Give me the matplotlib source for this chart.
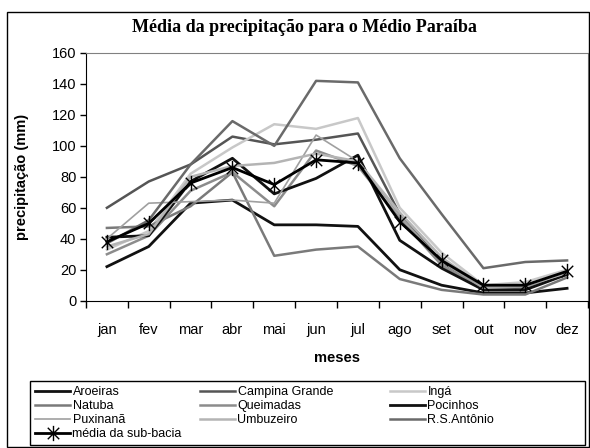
import numpy as np
import matplotlib
matplotlib.use('Agg')
import matplotlib.pyplot as plt
from matplotlib.path import Path
from matplotlib.patches import Rectangle

plt.rcParams['font.family'] = ['Liberation Sans', 'DejaVu Sans']

meses = ['jan', 'fev', 'mar', 'abr', 'mai', 'jun', 'jul', 'ago', 'set', 'out', 'nov', 'dez']

aroeiras = [22, 35, 63, 65, 49, 49, 48, 20, 10, 5, 5, 8]
campina_grande = [60, 77, 88, 106, 101, 104, 108, 56, 25, 8, 9, 17]
inga = [33, 45, 82, 99, 114, 111, 118, 60, 31, 10, 12, 20]
natuba = [47, 48, 61, 83, 29, 33, 35, 14, 7, 4, 4, 15]
queimadas = [30, 42, 71, 83, 61, 97, 87, 53, 23, 7, 8, 17]
pocinhos = [41, 42, 77, 92, 69, 79, 94, 39, 21, 7, 7, 17]
puxinana = [40, 63, 64, 65, 63, 107, 90, 55, 25, 8, 9, 18]
umbuzeiro = [35, 43, 80, 87, 89, 95, 90, 57, 28, 9, 10, 18]
rs_antonio = [37, 52, 88, 116, 100, 142, 141, 92, 56, 21, 25, 26]
media = [38, 50, 76, 86, 75, 91, 89, 51, 26, 10, 10, 19]

# asterisco tipo Excel
star = Path([(0, -1), (0, 1), (-0.75, -0.75), (0.75, 0.75), (-0.75, 0.75), (0.75, -0.75)],
            [Path.MOVETO, Path.LINETO, Path.MOVETO, Path.LINETO, Path.MOVETO, Path.LINETO])

fig = plt.figure(figsize=(5.9, 4.48), dpi=100)
ax = fig.add_axes([86/590, 1 - 300.7/448, (588 - 86)/590, (300.7 - 53)/448])

x = np.arange(len(meses))
series = [
    ('Aroeiras', aroeiras, '#111111', 2.0),
    ('Campina Grande', campina_grande, '#555555', 1.8),
    ('Ingá', inga, '#c8c8c8', 1.8),
    ('Natuba', natuba, '#7a7a7a', 1.8),
    ('Queimadas', queimadas, '#8c8c8c', 1.8),
    ('Pocinhos', pocinhos, '#111111', 2.0),
    ('Puxinanã', puxinana, '#a0a0a0', 1.2),
    ('Umbuzeiro', umbuzeiro, '#b4b4b4', 1.8),
    ('R.S.Antônio', rs_antonio, '#6a6a6a', 1.8),
]
handles = {}
for nome, vals, cor, lw in series:
    handles[nome], = ax.plot(x, vals, color=cor, lw=lw, label=nome)
handles['média da sub-bacia'], = ax.plot(x, media, color='black', lw=2.0, marker=star,
                                         markersize=11, markeredgewidth=1.0,
                                         label='média da sub-bacia')

ax.set_xlim(-0.5, 11.5)
ax.set_ylim(0, 160)
ax.set_yticks(range(0, 161, 20))
ax.set_xticks(x)
ax.set_xticklabels(meses)
ax.set_xticks(np.arange(-0.5, 12, 1), minor=True)
ax.tick_params(axis='x', which='major', length=0, pad=16, labelsize=10.5)
ax.tick_params(axis='x', which='minor', length=5, width=1)
ax.tick_params(axis='y', length=4, width=1, labelsize=10.5, pad=3)
for s in ['top', 'right']:
    ax.spines[s].set_color('#808080')
for s in ['left', 'bottom']:
    ax.spines[s].set_color('black')

ax.set_xlabel('meses', fontsize=10.5, fontweight='bold', labelpad=10)
ax.set_ylabel('precipitação (mm)', fontsize=10.5, fontweight='bold', labelpad=16)

fig.text(304/590, 1 - 28/448, 'Média da precipitação para o Médio Paraíba', ha='center', va='center',
         family='Liberation Serif', fontweight='bold', fontsize=13)

# legenda em 3 colunas, cada uma na sua posição
colunas = [(35, ['Aroeiras', 'Natuba', 'Puxinanã', 'média da sub-bacia']),
           (200, ['Campina Grande', 'Queimadas', 'Umbuzeiro']),
           (390, ['Ingá', 'Pocinhos', 'R.S.Antônio'])]
for x0, nomes in colunas:
    fig.legend([handles[n] for n in nomes], nomes, fontsize=9,
               loc='upper left', bbox_to_anchor=(x0/590, 1 - 386/448),
               frameon=False, borderaxespad=0, borderpad=0,
               handlelength=2.8, handletextpad=0.2, labelspacing=0.16)

# moldura da legenda e da figura
fig.patches.append(Rectangle((30/590, 3/448), 555/590, 64/448, transform=fig.transFigure,
                             fill=False, edgecolor='black', lw=1.0))
fig.patches.append(Rectangle((7/590, 1/448), 582/590, 435/448, transform=fig.transFigure,
                             fill=False, edgecolor='black', lw=1.0))

fig.savefig('out.png', dpi=100)
